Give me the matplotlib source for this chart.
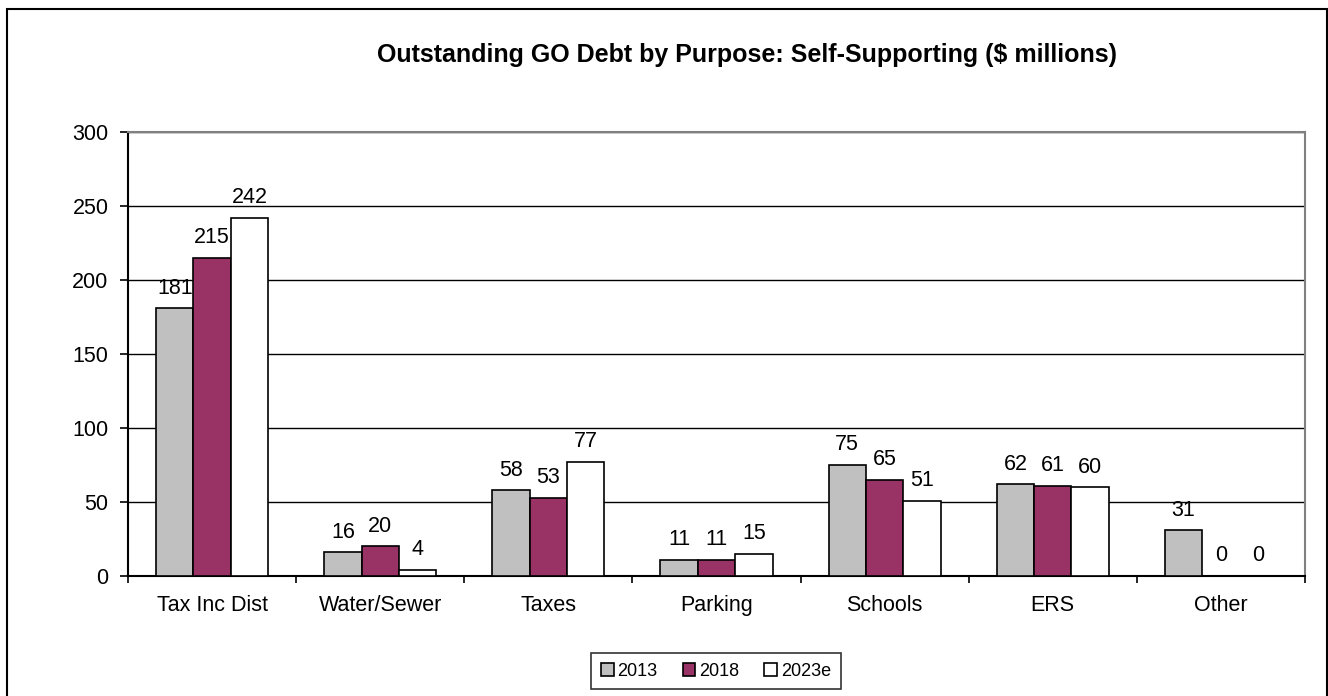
import matplotlib.pyplot as plt
import numpy as np
from matplotlib.patches import Rectangle

plt.rcParams['font.family'] = ['Liberation Sans', 'DejaVu Sans']

categories = ["Tax Inc Dist", "Water/Sewer", "Taxes", "Parking", "Schools", "ERS", "Other"]
series_names = ["2013", "2018", "2023e"]
values_2013 = [181, 16, 58, 11, 75, 62, 31]
values_2018 = [215, 20, 53, 11, 65, 61, 0]
values_2023e = [242, 4, 77, 15, 51, 60, 0]
y_ticks = [0, 50, 100, 150, 200, 250, 300]

colors = ["#C0C0C0", "#993366", "#FFFFFF"]

fig = plt.figure(figsize=(13.28, 6.96), dpi=100)
W, H = 1328, 696

# outer chart border
fig.patches.append(Rectangle((7 / W, -0.01), (1327 - 7) / W, (H - 9) / H + 0.01,
                             transform=fig.transFigure, fill=False,
                             edgecolor="black", linewidth=1.5))

left, right, top, bottom = 128, 1305, 132, 576
ax = fig.add_axes([left / W, 1 - bottom / H, (right - left) / W, (bottom - top) / H])

fs = 15.5
n = len(categories)
x = np.arange(n)
bw = 1 / 4.5
for i, (vals, c, name) in enumerate(zip([values_2013, values_2018, values_2023e], colors, series_names)):
    pos = x + (i - 1) * bw
    ax.bar(pos, vals, width=bw, color=c, edgecolor="black", linewidth=1.2,
           label=name, zorder=3)
    for p, v in zip(pos, vals):
        ax.annotate(f"{v}", (p, v), xytext=(0, 10.5), textcoords="offset points",
                    ha="center", va="baseline", fontsize=fs, zorder=4)

ax.set_xlim(-0.5, n - 0.5)
ax.set_ylim(0, 300)
ax.set_yticks(y_ticks)
ax.set_yticklabels([str(t) for t in y_ticks], fontsize=fs)
ax.yaxis.grid(True, color="black", linewidth=1.0, zorder=0)
ax.set_axisbelow(True)

# category labels centred on a common baseline, tick marks on group boundaries
ax.set_xticks(x)
ax.set_xticklabels(categories, fontsize=fs)
for lab in ax.get_xticklabels():
    lab.set_va("baseline")
ax.tick_params(axis="x", length=0, pad=25)
ax.set_xticks(np.arange(n + 1) - 0.5, minor=True)
ax.tick_params(axis="x", which="minor", length=5, width=1.2, direction="out")
ax.tick_params(axis="y", length=6, width=1.2, direction="out", pad=8)

for s in ["left", "bottom"]:
    ax.spines[s].set_color("black")
    ax.spines[s].set_linewidth(1.5)
for s in ["top", "right"]:
    ax.spines[s].set_color("#808080")
    ax.spines[s].set_linewidth(1.5)

fig.text(747 / W, 1 - 55 / H, "Outstanding GO Debt by Purpose: Self-Supporting ($ millions)",
         ha="center", va="center", fontsize=18, fontweight="bold")

leg = fig.legend(loc="center", bbox_to_anchor=(716 / W, 1 - 671 / H), ncol=3,
                 fontsize=13, frameon=True, fancybox=False, handlelength=0.7,
                 handleheight=0.7, handletextpad=0.2, columnspacing=1.4,
                 borderpad=0.55)
leg.get_frame().set_edgecolor("black")
leg.get_frame().set_linewidth(1.2)

fig.savefig("out.png", dpi=100)
